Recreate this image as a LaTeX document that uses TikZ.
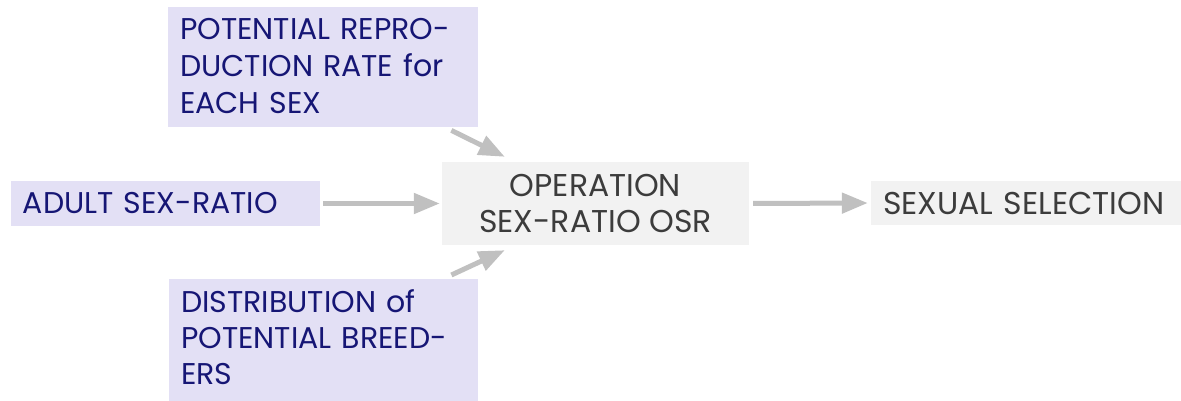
\documentclass[tikz,border=0pt]{standalone}
\usepackage{fontspec}
\setmainfont{Poppins}
\usetikzlibrary{arrows.meta}
\definecolor{lav}{HTML}{E3E0F5}
\definecolor{navy}{HTML}{161675}
\definecolor{boxgray}{HTML}{F2F2F2}
\definecolor{txtgray}{HTML}{3C3C3C}
\definecolor{arrgray}{HTML}{C0C0C0}
\begin{document}
\begin{tikzpicture}[x=1pt,y=-1pt,
  inbox/.style={fill=lav, text=navy, align=left, inner xsep=12pt, inner ysep=0pt,
    font=\fontsize{30}{37}\selectfont},
  graybox/.style={fill=boxgray, text=txtgray, inner sep=0pt,
    font=\fontsize{31.5}{36}\selectfont},
  flow/.style={draw=arrgray, line width=5pt, -{Triangle[length=26pt,width=20pt]}}]
\useasboundingbox (0,0) rectangle (1181,401);
\node[inbox, text width=286pt, text height=32pt, text depth=88pt, anchor=north west] (pot) at (168,7)
  {POTENTIAL REPRO-\\DUCTION RATE for\\EACH SEX};
\node[inbox, text width=285pt, minimum height=45pt] (adult) at (165.5,203.5)
  {ADULT SEX-RATIO};
\node[inbox, text width=285pt, text height=33pt, text depth=89pt, anchor=north west,
  font=\fontsize{30}{36}\selectfont] (dist) at (169,279)
  {DISTRIBUTION of\\POTENTIAL BREED-\\ERS};
\node[graybox, align=center, minimum width=307pt, minimum height=83pt] (op) at (595.5,203.5)
  {OPERATION\\SEX-RATIO OSR};
\node[graybox, align=left, text width=286pt, inner xsep=12pt, minimum height=44pt] (sex) at (1026,203)
  {SEXUAL SELECTION};
\draw[flow, shorten <=3pt, shorten >=2pt] (adult.east) -- (op.west);
\draw[flow, shorten <=4pt, shorten >=3pt] (op.east) -- (sex.west);
\draw[flow] ([xshift=-27pt,yshift=-3pt]pot.south east) -- ([xshift=63pt,yshift=5pt]op.north west);
\draw[flow] ([xshift=-27pt,yshift=4pt]dist.north east) -- ([xshift=63pt,yshift=-5pt]op.south west);
\end{tikzpicture}
\end{document}
